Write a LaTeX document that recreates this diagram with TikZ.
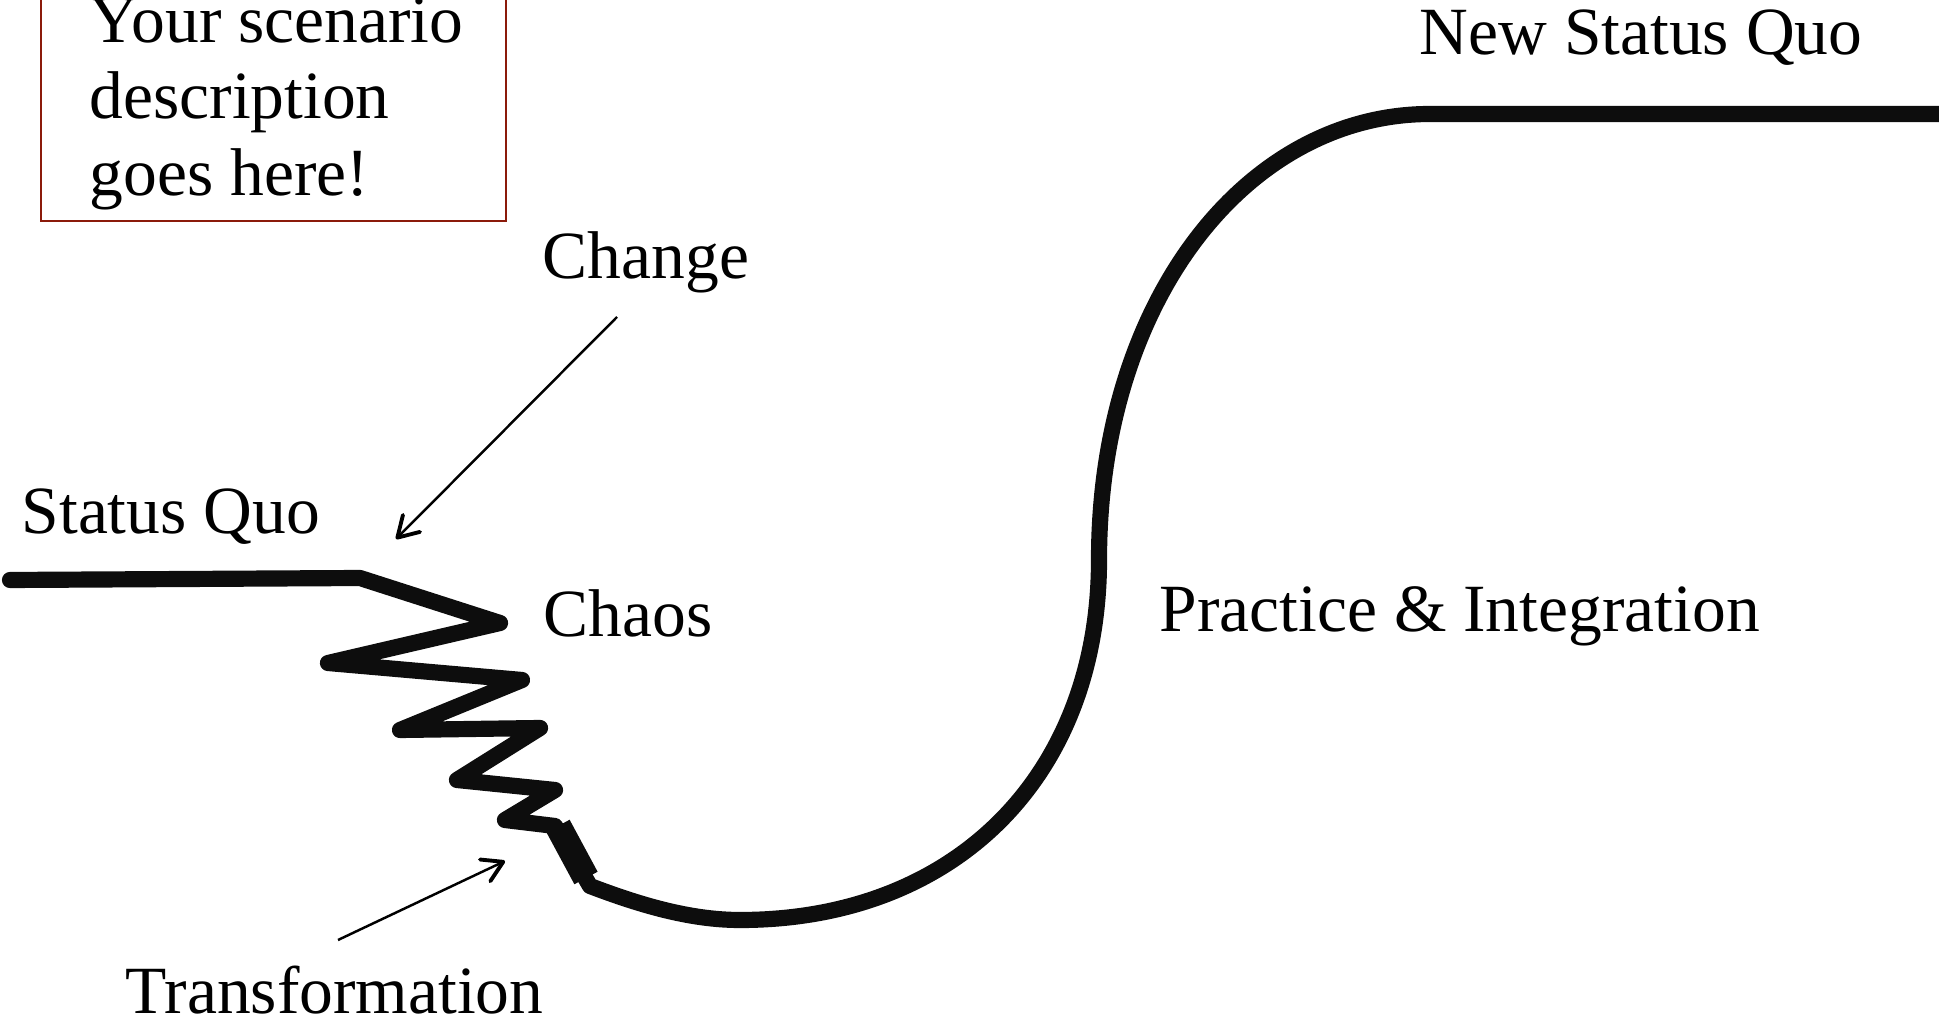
\documentclass[tikz,border=0pt]{standalone}
\usepackage{fontspec}
\setmainfont{Liberation Serif}
\usetikzlibrary{arrows.meta}
\definecolor{boxred}{RGB}{139,26,10}
\begin{document}
\begin{tikzpicture}[x=0.01cm,y=-0.01cm,
  lbl/.style={anchor=base west,inner sep=0pt,font=\fontsize{19.2pt}{23pt}\selectfont},
  curveline/.style={line width=4.6pt,line join=round,line cap=round,black!95},
  pointer/.style={line width=0.7pt,-{Straight Barb[length=0.2cm,width=0.24cm,line width=1.1pt,round]}},
  scenbox/.style={draw=boxred,line width=0.75pt}]
\useasboundingbox (0,0) rectangle (1939,1019);
\clip (0,0) rectangle (1939,1019);
% scenario box
\draw[scenbox] (41,-20) rectangle (506,221);
\node[lbl] (sc1) at (89,43) {Your scenario};
\node[lbl] (sc2) at (89,119) {description};
\node[lbl] (sc3) at (89,196) {goes here!};
% labels
\node[lbl] (sq) at (21,534) {Status Quo};
\node[lbl] (chg) at (542,279) {Change};
\node[lbl] (chaos) at (543,637) {Chaos};
\node[lbl] (prac) at (1159,632) {Practice \& Integration};
\node[lbl] (nsq) at (1419,55) {New Status Quo};
\node[lbl] (trf) at (125,1013) {Transformation};
% main curve
\draw[curveline] (10,580) -- (360,578) -- (500,623) -- (328,663) -- (522,680)
  -- (400,730) -- (540,728) -- (457,780) -- (555,790) -- (505,820) -- (555,826)
  -- (590,886) .. controls (640,905) and (690,920) .. (740,920)
  .. controls (955,920) and (1099,776) .. (1099,560)
  .. controls (1099,300) and (1247,114) .. (1430,114) -- (1945,114);
\draw[line width=7.5pt,black!95] (558,826) -- (586,878);
% arrows
\coordinate (chgA) at (617,317);
\coordinate (chgB) at (396,539);
\coordinate (trfA) at (338,940);
\coordinate (trfB) at (505,861);
\draw[pointer] (chgA) -- (chgB);
\draw[pointer] (trfA) -- (trfB);
\end{tikzpicture}
\end{document}
